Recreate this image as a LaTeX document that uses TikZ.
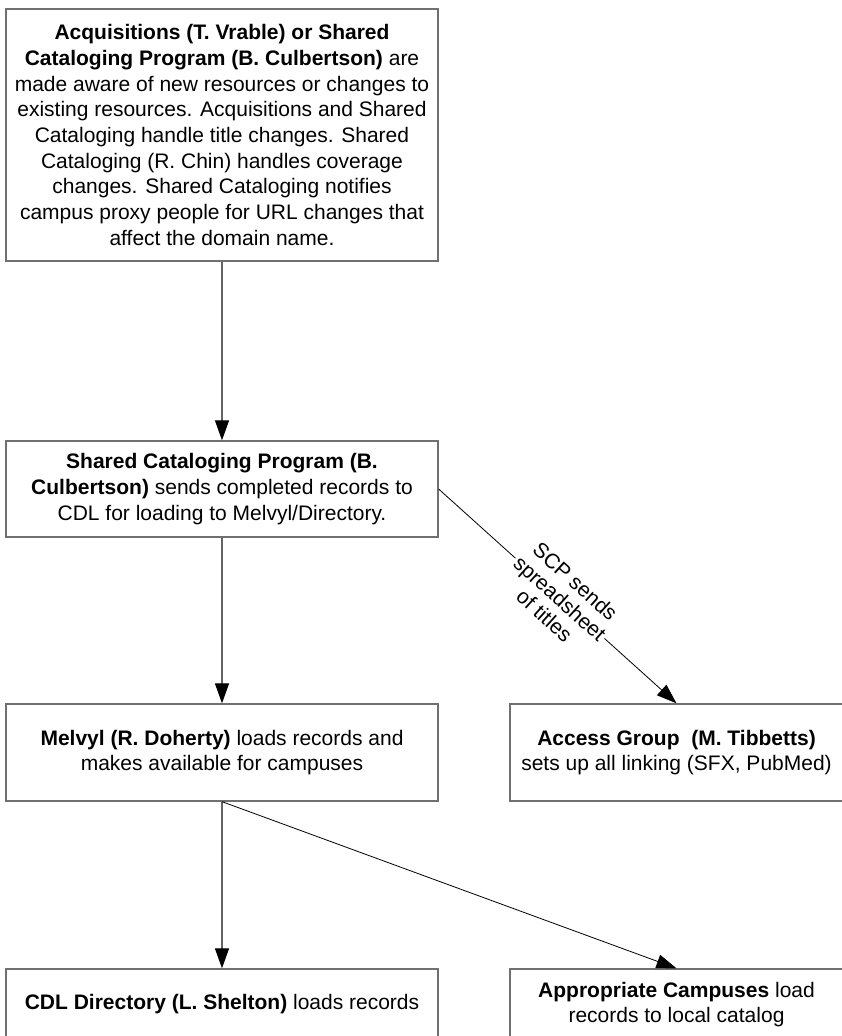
\documentclass[tikz,border=0pt]{standalone}
\usepackage{fontspec}
\setmainfont{Liberation Sans}
\usetikzlibrary{arrows.meta}
\definecolor{boxgray}{RGB}{112,112,112}
\definecolor{linegray}{RGB}{100,100,100}
\begin{document}
\begin{tikzpicture}[x=1pt,y=-1pt,
  box/.style={draw=boxgray, line width=1.3pt, rectangle, align=center, inner sep=0pt,
    font=\fontsize{21}{25.7}\selectfont},
  conn/.style={draw=linegray, line width=1.2pt, -{Triangle[length=20pt,width=14pt,color=black]}},
  diag/.style={draw=black, line width=0.8pt, -{Triangle[length=20pt,width=14pt,color=black]}},
  lbl/.style={fill=white, align=center, inner sep=2pt, font=\fontsize{21}{23}\selectfont}]
\useasboundingbox (0,0) rectangle (842,1036);

\node[box, minimum width=432pt, minimum height=252pt] (acq) at (222,135)
 {\textbf{Acquisitions (T. Vrable) or Shared}\\
  \textbf{Cataloging Program (B. Culbertson)} are\\
  made aware of new resources or changes to\\
  existing resources. Acquisitions and Shared\\
  Cataloging handle title changes. Shared\\
  Cataloging (R. Chin) handles coverage\\
  changes. Shared Cataloging notifies\\
  campus proxy people for URL changes that\\
  affect the domain name.};

\node[box, minimum width=432pt, minimum height=96pt] (scp) at (222,489)
 {\textbf{Shared Cataloging Program (B.}\\
  \textbf{Culbertson)} sends completed records to\\
  CDL for loading to Melvyl/Directory.};

\node[box, minimum width=432pt, minimum height=97pt] (mel) at (222,752.5)
 {\textbf{Melvyl (R. Doherty)} loads records and\\
  makes available for campuses};

\node[box, minimum width=333pt, minimum height=97pt] (acc) at (676.5,752.5)
 {\textbf{Access Group\ \ (M. Tibbetts)}\\
  sets up all linking (SFX, PubMed)};

\node[box, minimum width=432pt, minimum height=71pt] (cdl) at (222,1004.5)
 {\textbf{CDL Directory (L. Shelton)} loads records};

\node[box, minimum width=333pt, minimum height=71pt] (cam) at (676.5,1004.5)
 {\textbf{Appropriate Campuses} load\\
  records to local catalog};

\draw[conn] (acq.south) -- (scp.north);
\draw[conn] (scp.south) -- (mel.north);
\draw[conn] (mel.south) -- (cdl.north);
\draw[diag] (scp.east) -- node[lbl, sloped, pos=0.51] (lab) {SCP sends\\spreadsheet\\of titles} (acc.north);
\draw[diag] (mel.south) -- (cam.north);
\end{tikzpicture}
\end{document}
